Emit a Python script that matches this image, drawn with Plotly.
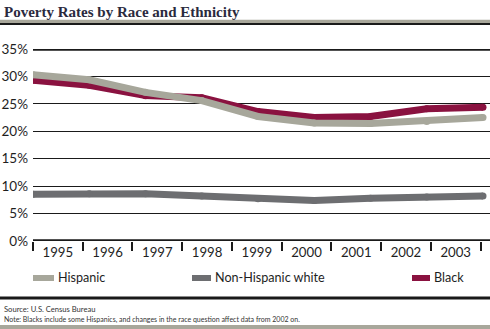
import plotly.graph_objects as go

years = ["1995", "1996", "1997", "1998", "1999", "2000", "2001", "2002", "2003"]
hispanic = [30.3, 29.4, 27.1, 25.6, 22.7, 21.5, 21.4, 21.8, 22.5]
nh_white = [8.5, 8.6, 8.6, 8.2, 7.7, 7.4, 7.8, 8.0, 8.2]
black = [29.3, 28.4, 26.5, 26.1, 23.6, 22.5, 22.7, 24.1, 24.4]
y_ticks = [0, 5, 10, 15, 20, 25, 30, 35]

C_HISP = "#a7a79b"
C_NHW = "#6d6e71"
C_BLACK = "#8a1240"
SANS = "Lato"

W, H = 490, 329
L, R, T, B = 33, 0, 49, 88
pw, ph = W - L - R, H - T - B

def px(x):
    return (x - L) / pw

def py(y):
    return (H - B - y) / ph

idx = list(range(len(years)))

fig = go.Figure()
fig.add_trace(go.Scatter(x=years, y=[None] * len(years), xaxis="x", yaxis="y",
                         showlegend=False, hoverinfo="skip"))
for name, vals, col in [("Black", black, C_BLACK), ("Hispanic", hispanic, C_HISP),
                        ("Non-Hispanic white", nh_white, C_NHW)]:
    fig.add_trace(go.Scatter(x=idx, y=vals, xaxis="x2", yaxis="y", mode="lines+markers",
                             name=name, line=dict(color=col, width=7),
                             marker=dict(color=col, size=7, line=dict(width=0)),
                             showlegend=False))

shapes = []
for yv in (0, 35):
    shapes.append(dict(type="line", xref="paper", yref="y", x0=0, x1=1, y0=yv, y1=yv,
                       line=dict(color="#1a1a1a", width=3.5), layer="above"))
shapes.append(dict(type="line", xref="paper", yref="paper", x0=px(0), x1=px(W),
                   y0=py(21.5), y1=py(21.5), line=dict(color="#a8a79b", width=3.5)))
shapes.append(dict(type="line", xref="paper", yref="paper", x0=px(0), x1=px(W),
                   y0=py(24), y1=py(24), line=dict(color="#1a1a1a", width=2)))
shapes.append(dict(type="line", xref="paper", yref="paper", x0=px(0), x1=px(W),
                   y0=py(298), y1=py(298), line=dict(color="#1a1a1a", width=3)))
shapes.append(dict(type="line", xref="paper", yref="paper", x0=px(0), x1=px(W),
                   y0=py(327), y1=py(327), line=dict(color="#a8a79b", width=4)))

annotations = []
legend = [("Hispanic", C_HISP, 33, 54), ("Non-Hispanic white", C_NHW, 192, 211),
          ("Black", C_BLACK, 412, 430)]
for name, col, x0, x1 in legend:
    shapes.append(dict(type="path", xref="paper", yref="paper",
                       path=f"M {px(x0)},{py(278)} L {px(x1)},{py(278)}",
                       line=dict(color=col, width=6)))
    annotations.append(dict(xref="paper", yref="paper", x=px(x1 + 2), y=py(277.5),
                            text=name, showarrow=False, xanchor="left", yanchor="middle",
                            font=dict(family=SANS, size=12.6, color="#1e1e1e")))

annotations.append(dict(xref="paper", yref="paper", x=px(2), y=py(12),
                        text="<b>Poverty Rates by Race and Ethnicity</b>", showarrow=False,
                        xanchor="left", yanchor="middle",
                        font=dict(family="Liberation Serif", size=15, color="#2a2a3e")))
annotations.append(dict(xref="paper", yref="paper", x=px(2), y=py(309),
                        text="Source: U.S. Census Bureau", showarrow=False,
                        xanchor="left", yanchor="middle",
                        font=dict(family=SANS, size=7.6, color="#333")))
annotations.append(dict(xref="paper", yref="paper", x=px(2), y=py(319),
                        text="Note: Blacks include some Hispanics, and changes in the race question affect data from 2002 on.",
                        showarrow=False, xanchor="left", yanchor="middle",
                        font=dict(family=SANS, size=7.0, color="#333")))

fig.update_layout(
    width=W, height=H,
    margin=dict(l=L, r=R, t=T, b=B, pad=0),
    plot_bgcolor="white", paper_bgcolor="white",
    showlegend=False,
    xaxis=dict(type="category", categoryorder="array", categoryarray=years,
               range=[-0.5, 8.69], tickson="boundaries", ticks="outside", ticklen=9,
               tickwidth=1.5, tickcolor="#1a1a1a", showgrid=False, zeroline=False,
               showline=False, ticklabelstandoff=2,
               tickfont=dict(family=SANS, size=13.2, color="#1e1e1e"),
               fixedrange=True),
    xaxis2=dict(overlaying="x", range=[0, 8 * (W - L) / 450], visible=False,
                showgrid=False, zeroline=False),
    yaxis=dict(range=[0, 35], tickvals=y_ticks, ticktext=[f"{v}%" for v in y_ticks],
               showgrid=True, gridcolor="#1a1a1a", gridwidth=1, zeroline=False,
               showline=False, ticks="", ticklabelstandoff=4,
               tickfont=dict(family=SANS, size=13.5, color="#1e1e1e")),
    shapes=shapes, annotations=annotations,
)

fig.write_html("out.html")
